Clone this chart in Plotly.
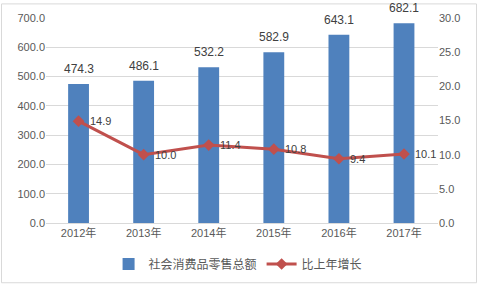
import plotly.graph_objects as go

years = ["2012年", "2013年", "2014年", "2015年", "2016年", "2017年"]
retail = [474.3, 486.1, 532.2, 582.9, 643.1, 682.1]
growth = [14.9, 10.0, 11.4, 10.8, 9.4, 10.1]
left_ticks = [0, 100, 200, 300, 400, 500, 600, 700]
right_ticks = [0, 5, 10, 15, 20, 25, 30]

FONT = "Liberation Sans, DejaVu Sans, Noto Sans CJK SC"
grey = "#595959"

fig = go.Figure()
fig.add_trace(go.Bar(
    x=years, y=retail, name="社会消费品零售总额",
    marker=dict(color="#4F81BD", line=dict(width=0)),
))
fig.add_trace(go.Scatter(
    x=years, y=growth, name="比上年增长", yaxis="y2",
    mode="lines+markers",
    line=dict(color="#C0504D", width=3),
    marker=dict(symbol="diamond", size=9, color="#C0504D"),
    cliponaxis=False,
))

annotations = []
for yr, v in zip(years, retail):
    annotations.append(dict(x=yr, y=v, xref="x", yref="y", text=f"{v:.1f}",
                            showarrow=False, yanchor="bottom", yshift=6,
                            font=dict(size=12, color="#404040")))
for yr, v in zip(years, growth):
    annotations.append(dict(x=yr, y=v, xref="x", yref="y2", text=f"{v:.1f}",
                            showarrow=False, xanchor="left", xshift=9,
                            font=dict(size=11, color="#404040")))

fig.update_layout(
    width=479, height=291,
    margin=dict(l=46, r=41, t=15, b=65),
    paper_bgcolor="white", plot_bgcolor="white",
    font=dict(family=FONT, size=11, color=grey),
    bargap=0.68,
    showlegend=True,
    annotations=annotations,
    legend=dict(orientation="h", x=0.49, xanchor="center", y=-0.2, yanchor="middle",
                font=dict(size=12, color=grey), itemwidth=30, traceorder="normal"),
    xaxis=dict(showgrid=False, showline=True, linecolor="#D9D9D9", ticks="",
               tickfont=dict(size=11, color=grey)),
    yaxis=dict(range=[0, 700], tickvals=left_ticks, tickformat=".1f",
               showgrid=True, gridcolor="#D9D9D9", zeroline=False,
               tickfont=dict(size=11, color=grey), ticks="", ticklen=0),
    yaxis2=dict(range=[0, 30], tickvals=right_ticks, tickformat=".1f",
                overlaying="y", side="right", showgrid=False, zeroline=False,
                tickfont=dict(size=11, color=grey)),
    shapes=[dict(type="rect", xref="paper", yref="paper",
                 x0=-44.5/392, x1=(476.5-46)/392, y0=-(287.5-226)/211, y1=(226-0.5)/211,
                 line=dict(color="#D9D9D9", width=1))],
)

fig.write_html("out.html")
